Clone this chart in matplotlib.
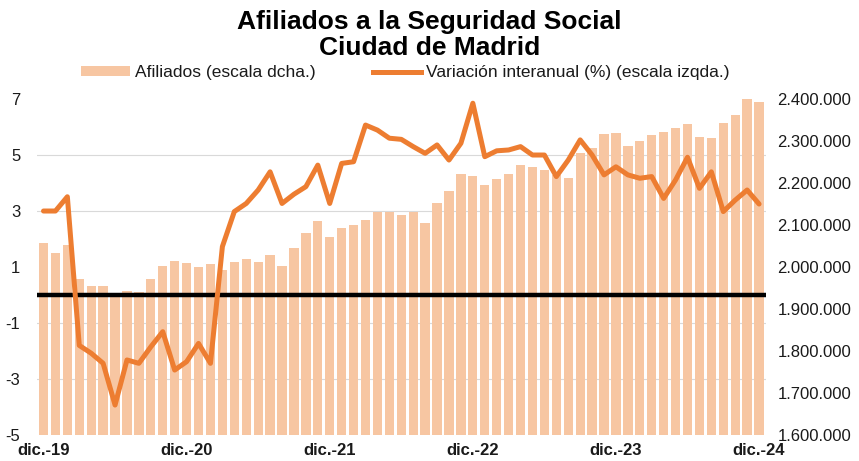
import matplotlib
matplotlib.use("Agg")
import matplotlib.pyplot as plt
import matplotlib.ticker as mticker
import numpy as np
from matplotlib.patches import Patch
from matplotlib.lines import Line2D

plt.rcParams["font.family"] = ["Liberation Sans", "DejaVu Sans"]
plt.rcParams["axes.unicode_minus"] = False

# afiliados mensuales, dic-19 .. dic-24
afiliados = [
    2056000, 2034000, 2052000, 1972000, 1955000, 1955000, 1939000, 1943000,
    1940000, 1972000, 2003000, 2014000, 2009000, 1999000, 2006000, 1993000,
    2012000, 2020000, 2012000, 2029000, 2003000, 2045000, 2082000, 2109000,
    2072000, 2092000, 2100000, 2111000, 2132000, 2132000, 2125000, 2132000,
    2104000, 2153000, 2181000, 2221000, 2217000, 2195000, 2209000, 2221000,
    2244000, 2239000, 2231000, 2219000, 2211000, 2272000, 2283000, 2317000,
    2320000, 2288000, 2300000, 2314000, 2322000, 2330000, 2340000, 2310000,
    2308000, 2342000, 2362000, 2399000, 2394000,
]

# variacion interanual (%)
variacion = [
    3.00, 3.00, 3.51, -1.80, -2.08, -2.44, -3.93, -2.32,
    -2.44, -1.85, -1.31, -2.68, -2.38, -1.73, -2.44, 1.73,
    2.98, 3.27, 3.75, 4.40, 3.27, 3.60, 3.87, 4.64,
    3.27, 4.70, 4.76, 6.07, 5.89, 5.60, 5.56, 5.30,
    5.06, 5.36, 4.82, 5.42, 6.85, 4.94, 5.15, 5.18,
    5.30, 5.00, 5.00, 4.23, 4.82, 5.54, 5.00, 4.29,
    4.58, 4.29, 4.17, 4.23, 3.45, 4.11, 4.92, 3.81,
    4.40, 2.98, 3.39, 3.75, 3.25,
]

x_labels = ["dic.-19", "dic.-20", "dic.-21", "dic.-22", "dic.-23", "dic.-24"]
x_label_pos = [0, 12, 24, 36, 48, 60]

bar_color = "#F7C6A2"
line_color = "#ED7D31"
txt_color = "#1A1A1A"

fig = plt.figure(figsize=(8.59, 4.61), dpi=100)
ax = fig.add_axes([0.043, 0.0564, 0.849, 0.7288])
ax2 = ax.twinx()

x = np.arange(len(afiliados))

# barras (escala derecha) en el eje principal
ax.bar(x, afiliados, width=0.78, color=bar_color, zorder=2)
ax.set_ylim(1600000, 2400000)
ax.set_xlim(-0.55, 60.6)
ax.yaxis.tick_right()
ax.set_yticks(np.arange(1600000, 2400001, 100000))
ax.yaxis.set_major_formatter(mticker.FuncFormatter(lambda v, p: f"{int(v):,}".replace(",", ".")))
# rejilla alineada con las marcas de la escala izquierda
ax.yaxis.set_minor_locator(mticker.FixedLocator(np.linspace(1600000, 2400000, 7)))
ax.grid(which="minor", axis="y", color="#D9D9D9", linewidth=0.8, zorder=0)
ax.set_axisbelow(True)

# linea de variacion (escala izquierda)
ax2.axhline(0, color="black", linewidth=3.2, zorder=3)
ax2.plot(x, variacion, color=line_color, linewidth=3.6, solid_joinstyle="round",
         solid_capstyle="round", zorder=4)
ax2.set_ylim(-5, 7)
ax2.yaxis.tick_left()
ax2.set_yticks(np.arange(-5, 8, 2))

ax.set_xticks(x_label_pos)
ax.set_xticklabels(x_labels, fontweight="bold", fontsize=12, color=txt_color)
ax.tick_params(axis="x", length=0, pad=6)
ax.tick_params(axis="y", which="both", length=0, pad=8, labelsize=12, labelcolor=txt_color)
ax2.tick_params(axis="y", length=0, pad=12, labelsize=12, labelcolor=txt_color)

for a in (ax, ax2):
    for s in a.spines.values():
        s.set_visible(False)

fig.text(0.5, 0.952, "Afiliados a la Seguridad Social", ha="center", va="center",
         fontsize=19, fontweight="bold", color="black")
fig.text(0.5, 0.895, "Ciudad de Madrid", ha="center", va="center",
         fontsize=19, fontweight="bold", color="black")

handles = [
    Patch(facecolor=bar_color, edgecolor="none"),
    Line2D([0], [0], color=line_color, linewidth=3.6),
]
fig.legend(handles, ["Afiliados (escala dcha.)", "Variación interanual (%) (escala izqda.)"],
           loc="center", bbox_to_anchor=(0.472, 0.842), ncol=2, frameon=False,
           fontsize=12.5, handlelength=2.8, handleheight=0.45, handletextpad=0.3,
           columnspacing=3.3, borderpad=0, labelcolor=txt_color)

fig.savefig("out.png", dpi=100)
